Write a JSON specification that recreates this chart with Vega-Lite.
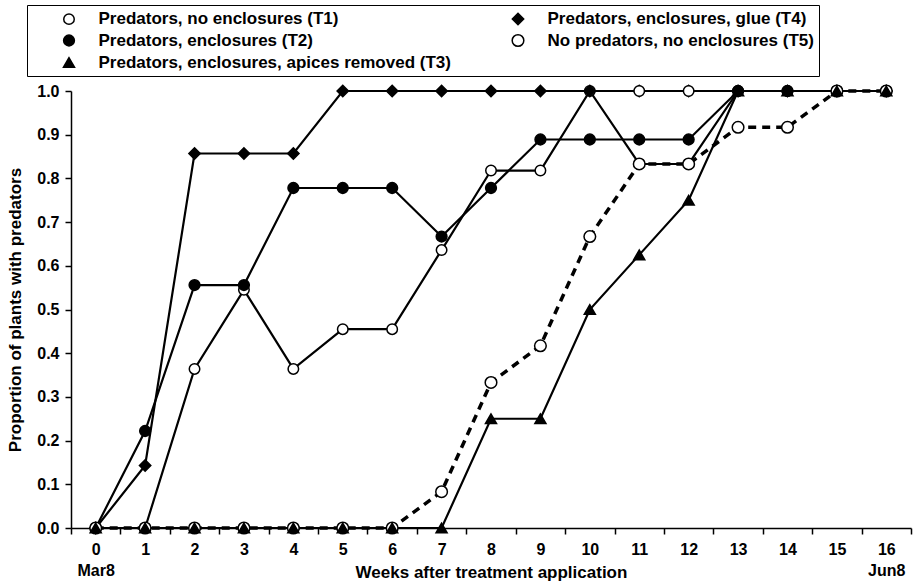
{
  "$schema": "https://vega.github.io/schema/vega-lite/v6.json",
  "width": 840,
  "height": 437,
  "autosize": {"type": "none"},
  "padding": {"left": 71, "top": 91, "right": 2, "bottom": 57},
  "background": "white",
  "datasets": {
    "main": [
      {"week": 0, "series": "Predators, no enclosures (T1)", "value": 0},
      {"week": 1, "series": "Predators, no enclosures (T1)", "value": 0},
      {"week": 2, "series": "Predators, no enclosures (T1)", "value": 0.364},
      {"week": 3, "series": "Predators, no enclosures (T1)", "value": 0.545},
      {"week": 4, "series": "Predators, no enclosures (T1)", "value": 0.364},
      {"week": 5, "series": "Predators, no enclosures (T1)", "value": 0.455},
      {"week": 6, "series": "Predators, no enclosures (T1)", "value": 0.455},
      {"week": 7, "series": "Predators, no enclosures (T1)", "value": 0.636},
      {"week": 8, "series": "Predators, no enclosures (T1)", "value": 0.818},
      {"week": 9, "series": "Predators, no enclosures (T1)", "value": 0.818},
      {"week": 10, "series": "Predators, no enclosures (T1)", "value": 1.0},
      {"week": 11, "series": "Predators, no enclosures (T1)", "value": 0.833},
      {"week": 12, "series": "Predators, no enclosures (T1)", "value": 0.833},
      {"week": 13, "series": "Predators, no enclosures (T1)", "value": 1.0},
      {"week": 14, "series": "Predators, no enclosures (T1)", "value": 1.0},
      {"week": 15, "series": "Predators, no enclosures (T1)", "value": 1.0},
      {"week": 16, "series": "Predators, no enclosures (T1)", "value": 1.0},
      {"week": 0, "series": "Predators, enclosures (T2)", "value": 0},
      {"week": 1, "series": "Predators, enclosures (T2)", "value": 0.222},
      {"week": 2, "series": "Predators, enclosures (T2)", "value": 0.556},
      {"week": 3, "series": "Predators, enclosures (T2)", "value": 0.556},
      {"week": 4, "series": "Predators, enclosures (T2)", "value": 0.778},
      {"week": 5, "series": "Predators, enclosures (T2)", "value": 0.778},
      {"week": 6, "series": "Predators, enclosures (T2)", "value": 0.778},
      {"week": 7, "series": "Predators, enclosures (T2)", "value": 0.667},
      {"week": 8, "series": "Predators, enclosures (T2)", "value": 0.778},
      {"week": 9, "series": "Predators, enclosures (T2)", "value": 0.889},
      {"week": 10, "series": "Predators, enclosures (T2)", "value": 0.889},
      {"week": 11, "series": "Predators, enclosures (T2)", "value": 0.889},
      {"week": 12, "series": "Predators, enclosures (T2)", "value": 0.889},
      {"week": 13, "series": "Predators, enclosures (T2)", "value": 1.0},
      {"week": 14, "series": "Predators, enclosures (T2)", "value": 1.0},
      {"week": 15, "series": "Predators, enclosures (T2)", "value": 1.0},
      {"week": 16, "series": "Predators, enclosures (T2)", "value": 1.0},
      {"week": 0, "series": "Predators, enclosures, glue (T4)", "value": 0},
      {"week": 1, "series": "Predators, enclosures, glue (T4)", "value": 0.143},
      {"week": 2, "series": "Predators, enclosures, glue (T4)", "value": 0.857},
      {"week": 3, "series": "Predators, enclosures, glue (T4)", "value": 0.857},
      {"week": 4, "series": "Predators, enclosures, glue (T4)", "value": 0.857},
      {"week": 5, "series": "Predators, enclosures, glue (T4)", "value": 1.0},
      {"week": 6, "series": "Predators, enclosures, glue (T4)", "value": 1.0},
      {"week": 7, "series": "Predators, enclosures, glue (T4)", "value": 1.0},
      {"week": 8, "series": "Predators, enclosures, glue (T4)", "value": 1.0},
      {"week": 9, "series": "Predators, enclosures, glue (T4)", "value": 1.0},
      {"week": 10, "series": "Predators, enclosures, glue (T4)", "value": 1.0},
      {"week": 11, "series": "Predators, enclosures, glue (T4)", "value": 1.0},
      {"week": 12, "series": "Predators, enclosures, glue (T4)", "value": 1.0},
      {"week": 13, "series": "Predators, enclosures, glue (T4)", "value": 1.0},
      {"week": 14, "series": "Predators, enclosures, glue (T4)", "value": 1.0},
      {"week": 15, "series": "Predators, enclosures, glue (T4)", "value": 1.0},
      {"week": 16, "series": "Predators, enclosures, glue (T4)", "value": 1.0},
      {"week": 0, "series": "No predators, no enclosures (T5)", "value": 0},
      {"week": 1, "series": "No predators, no enclosures (T5)", "value": 0},
      {"week": 2, "series": "No predators, no enclosures (T5)", "value": 0},
      {"week": 3, "series": "No predators, no enclosures (T5)", "value": 0},
      {"week": 4, "series": "No predators, no enclosures (T5)", "value": 0},
      {"week": 5, "series": "No predators, no enclosures (T5)", "value": 0},
      {"week": 6, "series": "No predators, no enclosures (T5)", "value": 0},
      {"week": 7, "series": "No predators, no enclosures (T5)", "value": 0.083},
      {"week": 8, "series": "No predators, no enclosures (T5)", "value": 0.333},
      {"week": 9, "series": "No predators, no enclosures (T5)", "value": 0.417},
      {"week": 10, "series": "No predators, no enclosures (T5)", "value": 0.667},
      {"week": 11, "series": "No predators, no enclosures (T5)", "value": 0.833},
      {"week": 12, "series": "No predators, no enclosures (T5)", "value": 0.833},
      {"week": 13, "series": "No predators, no enclosures (T5)", "value": 0.917},
      {"week": 14, "series": "No predators, no enclosures (T5)", "value": 0.917},
      {"week": 15, "series": "No predators, no enclosures (T5)", "value": 1.0},
      {"week": 16, "series": "No predators, no enclosures (T5)", "value": 1.0},
      {"week": 0, "series": "Predators, enclosures, apices removed (T3)", "value": 0},
      {"week": 1, "series": "Predators, enclosures, apices removed (T3)", "value": 0},
      {"week": 2, "series": "Predators, enclosures, apices removed (T3)", "value": 0},
      {"week": 3, "series": "Predators, enclosures, apices removed (T3)", "value": 0},
      {"week": 4, "series": "Predators, enclosures, apices removed (T3)", "value": 0},
      {"week": 5, "series": "Predators, enclosures, apices removed (T3)", "value": 0},
      {"week": 6, "series": "Predators, enclosures, apices removed (T3)", "value": 0},
      {"week": 7, "series": "Predators, enclosures, apices removed (T3)", "value": 0},
      {"week": 8, "series": "Predators, enclosures, apices removed (T3)", "value": 0.25},
      {"week": 9, "series": "Predators, enclosures, apices removed (T3)", "value": 0.25},
      {"week": 10, "series": "Predators, enclosures, apices removed (T3)", "value": 0.5},
      {"week": 11, "series": "Predators, enclosures, apices removed (T3)", "value": 0.625},
      {"week": 12, "series": "Predators, enclosures, apices removed (T3)", "value": 0.75},
      {"week": 13, "series": "Predators, enclosures, apices removed (T3)", "value": 1.0},
      {"week": 14, "series": "Predators, enclosures, apices removed (T3)", "value": 1.0},
      {"week": 15, "series": "Predators, enclosures, apices removed (T3)", "value": 1.0},
      {"week": 16, "series": "Predators, enclosures, apices removed (T3)", "value": 1.0}
    ],
    "extra": [
      {"week": 11, "value": 1.0},
      {"week": 12, "value": 1.0}
    ]
  },
  "encoding": {
    "x": {
      "field": "week",
      "type": "ordinal",
      "scale": {"type": "band", "paddingInner": 0, "paddingOuter": 0},
      "axis": {
        "title": "Weeks after treatment application",
        "labelAngle": 0,
        "tickBand": "extent",
        "labelPadding": 7,
        "labelLineHeight": 21,
        "labelExpr": "datum.value == 0 ? ['0', 'Mar8'] : datum.value == 16 ? ['16', 'Jun8'] : datum.label",
        "titleY": 44,
        "titleBaseline": "middle"
      }
    },
    "y": {
      "field": "value",
      "type": "quantitative",
      "scale": {"domain": [0, 1], "nice": false, "zero": true},
      "axis": {
        "title": "Proportion of plants with predators",
        "values": [0, 0.1, 0.2, 0.3, 0.4, 0.5, 0.6, 0.7, 0.8, 0.9, 1.0],
        "format": ".1f",
        "labelPadding": 6,
        "titlePadding": 12
      }
    }
  },
  "layer": [
    {
      "data": {"name": "main"},
      "transform": [{"filter": "datum.series != 'No predators, no enclosures (T5)'"}],
      "mark": {"type": "line", "color": "black", "strokeWidth": 2.2},
      "encoding": {"detail": {"field": "series"}}
    },
    {
      "data": {"name": "main"},
      "transform": [{"filter": "datum.series == 'No predators, no enclosures (T5)'"}],
      "mark": {"type": "line", "color": "black", "strokeWidth": 3.5, "strokeDash": [8, 6]},
      "encoding": {}
    },
    {
      "data": {"name": "main"},
      "mark": {"type": "point", "filled": false, "stroke": "black", "strokeWidth": 1.5, "opacity": 1},
      "encoding": {
        "fill": {
          "field": "series",
          "type": "nominal",
          "scale": {
            "domain": ["Predators, no enclosures (T1)", "Predators, enclosures (T2)", "Predators, enclosures, apices removed (T3)", "Predators, enclosures, glue (T4)", "No predators, no enclosures (T5)"],
            "range": ["white", "black", "black", "black", "white"]
          },
          "legend": {
            "title": null,
            "orient": "none",
            "legendX": -44,
            "legendY": -86,
            "columns": 2,
            "columnPadding": 30,
            "rowPadding": 3,
            "padding": 5,
            "symbolOffset": 28.5,
            "labelOffset": 21,
            "labelFontSize": 17,
            "labelFontWeight": "bold",
            "labelColor": "black",
            "labelLimit": 500,
            "symbolStrokeWidth": 1.5,
            "strokeColor": "black",
            "fillColor": "white"
          }
        },
        "shape": {
          "field": "series",
          "type": "nominal",
          "scale": {
            "domain": ["Predators, no enclosures (T1)", "Predators, enclosures (T2)", "Predators, enclosures, apices removed (T3)", "Predators, enclosures, glue (T4)", "No predators, no enclosures (T5)"],
            "range": ["circle", "circle", "triangle-up", "diamond", "circle"]
          }
        },
        "size": {
          "field": "series",
          "type": "nominal",
          "scale": {
            "domain": ["Predators, no enclosures (T1)", "Predators, enclosures (T2)", "Predators, enclosures, apices removed (T3)", "Predators, enclosures, glue (T4)", "No predators, no enclosures (T5)"],
            "range": [110, 135, 150, 121, 110]
          }
        }
      }
    },
    {
      "data": {"name": "extra"},
      "mark": {"type": "point", "shape": "circle", "filled": true, "fill": "white", "stroke": "black", "strokeWidth": 1.5, "size": 110, "opacity": 1}
    }
  ],
  "config": {
    "font": "Liberation Sans",
    "view": {"stroke": null},
    "axis": {
      "grid": false,
      "domainColor": "black",
      "domainWidth": 1.5,
      "tickColor": "black",
      "tickWidth": 1.5,
      "tickSize": 6,
      "labelFont": "Liberation Sans",
      "labelFontSize": 16,
      "labelFontWeight": "bold",
      "labelColor": "black",
      "titleFont": "Liberation Sans",
      "titleFontSize": 17,
      "titleFontWeight": "bold",
      "titleColor": "black"
    },
    "legend": {"labelFont": "Liberation Sans"}
  }
}
